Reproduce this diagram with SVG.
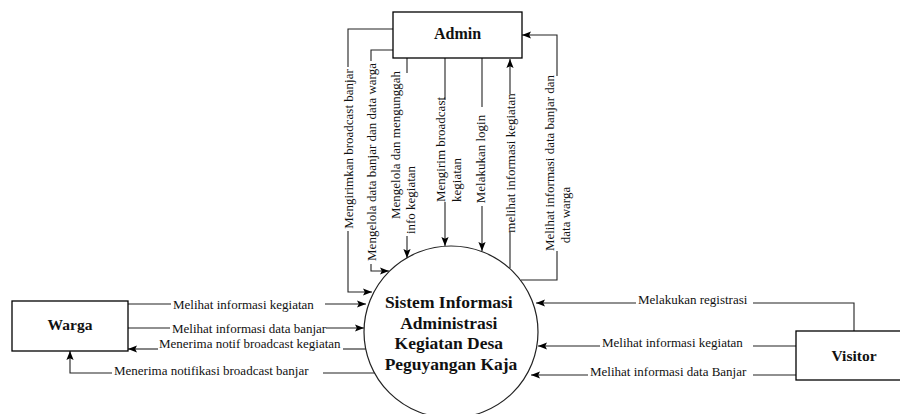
<svg xmlns="http://www.w3.org/2000/svg" width="900" height="414" viewBox="0 0 900 414">
<defs>
<marker id="arr" viewBox="0 0 10 8" refX="10" refY="4" markerWidth="9" markerHeight="8" markerUnits="userSpaceOnUse" orient="auto">
<path d="M0,0 L10,4 L0,8 L2,4 Z" fill="#000"/>
</marker>
<style>
.box{fill:#fff;stroke:#000;stroke-width:1.3}
.ln{fill:none;stroke:#222;stroke-width:1.1}
.ar{marker-end:url(#arr)}
.lb{font-family:"Liberation Serif","Times New Roman",serif;font-size:13px;fill:#111}
.nm{font-family:"Liberation Serif","Times New Roman",serif;font-weight:bold;fill:#111;text-anchor:middle}
.mid{text-anchor:middle}
</style>
</defs>
<rect width="900" height="414" fill="#fff"/>

<g id="connectors">
<path class="ln" d="M393,29 H348 V67"/>
<path class="ln ar" d="M348,231 V292 H372"/>
<text class="lb mid" transform="translate(352.5,149) rotate(-90)">Mengirimkan broadcast banjar</text>
<path class="ln" d="M393,50 H371 V61"/>
<path class="ln ar" d="M371,264 V271 H389"/>
<text class="lb mid" transform="translate(375.5,162) rotate(-90)">Mengelola data banjar dan data warga</text>
<path class="ln" d="M407,58 V73"/>
<path class="ln ar" d="M407,236 V258"/>
<text class="lb mid" transform="translate(399.5,145) rotate(-90)">Mengelola dan mengunggah</text>
<text class="lb mid" transform="translate(414.5,200) rotate(-90)">info kegiatan</text>
<path class="ln" d="M445,58 V100"/>
<path class="ln ar" d="M445,202 V246"/>
<text class="lb" transform="translate(444.5,202) rotate(-90)">Mengirim broadcast</text>
<text class="lb" transform="translate(460.5,202) rotate(-90)">kegiatan</text>
<path class="ln" d="M482,58 V107"/>
<path class="ln ar" d="M482,206 V251"/>
<text class="lb mid" transform="translate(484.5,159) rotate(-90)">Melakukan login</text>
<path class="ln" d="M510,268 V232"/>
<path class="ln ar" d="M510,94 V59"/>
<text class="lb mid" transform="translate(514.5,163) rotate(-90)">melihat informasi kegiatan</text>
<path class="ln" d="M521,280 H557 V251"/>
<path class="ln ar" d="M557,76 V35 H522"/>
<text class="lb mid" transform="translate(553.5,163) rotate(-90)">Melihat informasi data banjar dan</text>
<text class="lb mid" transform="translate(569.5,215) rotate(-90)">data warga</text>

<path class="ln" d="M128,304 H171"/>
<path class="ln ar" d="M325,304 H366"/>
<text class="lb" x="173" y="308.5">Melihat informasi kegiatan</text>
<path class="ln" d="M128,328 H170"/>
<path class="ln ar" d="M326,328 H364"/>
<text class="lb" x="172" y="332.5">Melihat informasi data banjar</text>
<path class="ln" d="M367,349 H343"/>
<path class="ln ar" d="M158,349 H128"/>
<text class="lb" x="159" y="347.5">Menerima notif broadcast kegiatan</text>
<path class="ln" d="M375,373 H323"/>
<path class="ln ar" d="M112,373 H70 V351"/>
<text class="lb" x="114" y="374.5">Menerima notifikasi broadcast banjar</text>

<path class="ln" d="M854,331 V303 H753"/>
<path class="ln ar" d="M636,303 H536"/>
<text class="lb" x="638" y="303.5">Melakukan registrasi</text>
<path class="ln" d="M797,346 H753"/>
<path class="ln ar" d="M600,346 H538"/>
<text class="lb" x="602" y="347">Melihat informasi kegiatan</text>
<path class="ln" d="M799,375 H753"/>
<path class="ln ar" d="M588,375 H531"/>
<text class="lb" x="590" y="376">Melihat informasi data Banjar</text>
</g>

<g id="admin">
<rect class="box" x="393" y="12" width="129" height="46"/>
<text class="nm" x="457.5" y="39" font-size="16">Admin</text>
</g>
<g id="warga">
<rect class="box" x="12" y="301" width="116" height="50"/>
<text class="nm" x="70" y="330" font-size="15.5">Warga</text>
</g>
<g id="visitor">
<rect class="box" x="796" y="331" width="110" height="49"/>
<text class="nm" x="854" y="361" font-size="15.5">Visitor</text>
</g>
<g id="sistem">
<ellipse cx="451" cy="332" rx="87" ry="86" fill="#fff" stroke="#222" stroke-width="1.2"/>
<text class="nm" font-size="17.5">
<tspan x="451" y="308">Sistem Informasi</tspan>
<tspan x="451" y="328.7">Administrasi</tspan>
<tspan x="451" y="349.4">Kegiatan Desa</tspan>
<tspan x="451" y="370">Peguyangan Kaja</tspan>
</text>
</g>
</svg>
